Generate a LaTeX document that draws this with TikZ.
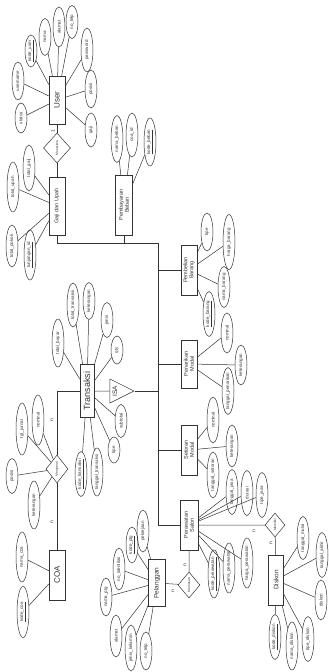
\documentclass[tikz,border=0pt]{standalone}
\usepackage{fontspec}
\setmainfont{Liberation Sans}
\usetikzlibrary{shapes.geometric}
\newcommand\attrfont{\fontsize{4.5}{5}\selectfont}
\newcommand\boxfont{\fontsize{5.5}{6}\selectfont}
\begin{document}
\begin{tikzpicture}[x=1pt, y=-1pt, line width=0.5pt, color=black!80,
  every node/.style={inner sep=0pt},
  atributo/.style={ellipse, draw, rotate=90, minimum height=12pt, font=\attrfont},
  entidad/.style={rectangle, draw, rotate=90, align=center, minimum height=16pt, font=\boxfont},
  relacion/.style={diamond, draw, rotate=90, font=\fontsize{3.3}{4}\selectfont},
  isa/.style={isosceles triangle, isosceles triangle stretches, draw, minimum width=24pt, minimum height=24pt, font=\fontsize{6.5}{7}\selectfont},
  card/.style={rotate=90, font=\fontsize{5}{5}\selectfont}]
  \useasboundingbox (0,0) rectangle (329,672);
  % las entidades
  \node[entidad, minimum width=48pt, font=\fontsize{8}{9}\selectfont] (user) at (57,100) {User};
  \node[entidad, minimum width=58pt] (gaji) at (57,206) {Gaji dan Upah};
  \node[entidad, minimum width=60pt, minimum height=17pt] (beban) at (124,205) {Pembayaran\\Beban};
  \node[entidad, minimum width=50pt] (barang) at (189,270) {Pembelian\\Barang};
  \node[entidad, minimum width=48pt] (tarik) at (189,364) {Penarikan\\Modal};
  \node[entidad, minimum width=50pt] (setor) at (189,450) {Setoran\\Modal};
  \node[entidad, minimum width=53pt, minimum height=14pt, font=\fontsize{9}{10}\selectfont] (trans) at (87,391) {Transaksi};
  \node[entidad, minimum width=50pt, font=\fontsize{8}{9}\selectfont] (coa) at (57,575) {COA};
  \node[entidad, minimum width=47pt, minimum height=17pt, font=\fontsize{6.5}{7}\selectfont] (plg) at (157,583) {Pelanggan};
  \node[entidad, minimum width=50pt, minimum height=18pt] (rawat) at (189,525) {Perawatan\\Salon};
  \node[entidad, minimum width=50pt, minimum height=15pt, font=\fontsize{6.5}{7}\selectfont] (diskon) at (276,580) {Diskon};
  % las relaciones
  \node[relacion, minimum width=30pt, minimum height=27pt] (terima) at (57,148) {\makebox[0pt]{Menerima}};
  \node[relacion, minimum width=28pt, minimum height=22pt] (jurnal) at (57,469) {\makebox[0pt]{Menjurnal}};
  \node[relacion, minimum width=26pt, minimum height=22pt] (pesan) at (189,585) {\makebox[0pt]{Memesan}};
  \node[relacion, minimum width=24pt, minimum height=20pt] (punya) at (275,525) {\makebox[0pt]{Memiliki}};
  \node[isa] (isa) at (115,391) {\rotatebox{90}{ISA}};
  % el bus de la derecha
  \coordinate (bus1) at (158,243);
  \draw (gaji) |- (bus1);
  \draw (beban) -- (beban |- bus1);
  \foreach \e in {barang, tarik, setor, rawat} {
    \draw (bus1) |- (\e);
  }
  \draw (trans) -- (isa);
  \draw (isa.apex) -- (isa.apex -| bus1);
  \draw (user) -- (terima) -- (gaji);
  \draw (trans) -| (jurnal);
  \draw (jurnal) -- (coa);
  \draw (plg) -- (pesan) -- (rawat);
  \draw (rawat) -- (punya) -- (diskon);
  % cardinalidades
  \foreach \nm/\x/\y/\t in {k1/53/131/1, k2/52/420/n, k3/52/522/n, k4/173/591/n,
                            k5/185/565/n, k6/254/531/n, k7/271/543/n} {
    \node[card] (\nm) at (\x,\y) {\t};
  }
  % los atributos
  \foreach \nm/\x/\y/\h/\t in {ukode/31/51/32/\underline{kode\_user}, unama/45/37/37/nama,
      ualamat/59/27/40/alamat, utelp/72/22/33/no\_telp, upass/87/50/44/password,
      uposisi/91/89/38/posisi, ugaji/91/130/34/gaji, uname/18/81/38/username,
      ustatus/21/118/30/status,
      gtgaji/29/168/46/total\_gaji, gtupah/13/187/50/total\_upah,
      gtpokok/12/246/42/total\_pokok, gtunj/30/255/50/\underline{tunjangan\_id},
      bnama/117/139/47/nama\_beban, bcoa/132/135/44/coa\_id, bkode/150/142/48/\underline{kode\_beban},
      ptipe/207/232/38/tipe, pharga/229/242/55/harga\_barang, pnama/224/287/41/nama\_barang,
      pkode/209/314/45/\underline{kode\_barang},
      rnom/227/333/40/nominal, rket/241/365/40/keterangan, rtgl/228/391/47/tanggal\_penarikan,
      snom/213/420/46/nominal, sket/232/446/42/keterangan, stgl/213/475/46/tanggal\_setoran,
      tbayar/58/343/48/total\_bayar, ttotal/73/305/44/total\_transaksi, tket/89/301/37/keterangan,
      tjenis/107/320/35/jenis, tqty/117/350/28/qty, tsub/121/421/33/subtotal,
      ttipe/114/450/26/tipe, ttgl/97/472/48/tanggal\_transaksi,
      tkode/81/474/45/\underline{kode\_transaksi},
      jtgl/22/429/52/tgl\_jurnal, jnom/38/420/50/nominal, jpos/12/476/35/posisi,
      jket/34/505/48/keterangan,
      cnama/22/557/50/nama\_coa, ckode/23/612/51/\underline{kode\_coa},
      lpek/143/531/42/pekerjaan, lkode/132/545/36/\underline{kode\_plg}, lid/119/569/42/no\_identitas,
      lnama/106/597/38/nama\_plg, lalamat/116/636/42/alamat, ljk/131/648/46/jenis\_kelamin,
      ltelp/146/651/38/no\_telp,
      wa/232/492/45/tanggal\_jasa, wb/247/493/45/durasi, wc/262/495/45/tipe\_jasa,
      wkode/214/574/48/\underline{kode\_perawatan}, wnama/229/568/50/nama\_perawatan,
      wharga/247/563/50/harga\_perawatan,
      dmulai/303/538/43/tanggal\_mulai, dakhir/322/555/45/tanggal\_akhir, ddisk/321/600/40/diskon,
      dkode/275/637/45/\underline{kode\_diskon}, dnama/292/646/48/nama\_diskon,
      dtipe/308/639/45/tipe\_diskon} {
    \node[atributo, minimum width=\h pt] (\nm) at (\x,\y) {\makebox[0pt]{\t}};
  }
  % lineas a los atributos
  \foreach \a in {ukode, unama, ualamat, utelp, upass, uposisi, ugaji, uname, ustatus} {
    \draw (user) -- (\a);
  }
  \foreach \a in {gtgaji, gtupah, gtpokok, gtunj} { \draw (gaji) -- (\a); }
  \foreach \a in {bnama, bcoa, bkode} { \draw (beban) -- (\a); }
  \foreach \a in {ptipe, pharga, pnama, pkode} { \draw (barang) -- (\a); }
  \foreach \a in {rnom, rket, rtgl} { \draw (tarik) -- (\a); }
  \foreach \a in {snom, sket, stgl} { \draw (setor) -- (\a); }
  \foreach \a in {tbayar, ttotal, tket, tjenis, tqty, tsub, ttipe, ttgl, tkode} {
    \draw (trans) -- (\a);
  }
  \foreach \a in {jtgl, jnom, jpos, jket} { \draw (jurnal) -- (\a); }
  \foreach \a in {cnama, ckode} { \draw (coa) -- (\a); }
  \foreach \a in {lpek, lkode, lid, lnama, lalamat, ljk, ltelp} { \draw (plg) -- (\a); }
  \foreach \a in {wa, wb, wc, wkode, wnama, wharga} { \draw (rawat) -- (\a); }
  \foreach \a in {dmulai, dakhir, ddisk, dkode, dnama, dtipe} { \draw (diskon) -- (\a); }
\end{tikzpicture}
\end{document}
